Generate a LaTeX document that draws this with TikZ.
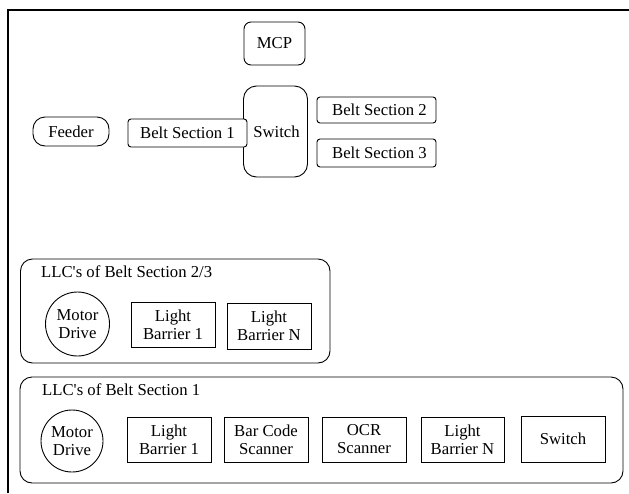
\documentclass[tikz,border=0pt]{standalone}
\usepackage{fontspec}
\setmainfont{Liberation Serif}[Ligatures=TeXOff]
\begin{document}
\begin{tikzpicture}[x=1pt,y=-1pt,
  every node/.style={font=\fontsize{16.7}{18}\selectfont, inner sep=0pt, align=center},
  box/.style={draw, line width=0.9pt, fill=white, rectangle},
  rbox/.style={box, rounded corners=#1},
  lbox/.style={box, minimum width=84pt, minimum height=45pt},
  motor/.style={draw, line width=0.9pt, circle, fill=white},
  container/.style={draw, line width=0.9pt, rounded corners=12pt}]
\useasboundingbox (0,0) rectangle (629,493);
% outer frame
\coordinate (fb) at (7.5,493);
\coordinate (fc) at (7.5,10);
\coordinate (fr) at (629,10);
\draw[line width=2pt] (fb) -- (fc) -- (fr);
% top area
\node[rbox=7pt, minimum width=61pt, minimum height=43pt] (mcp) at (274.5,43.5) {MCP};
\node[rbox=13pt, minimum width=64pt, minimum height=91pt] (sw) at (275.5,131.5) {\hspace*{2pt}Switch};
\node[rbox=12pt, minimum width=76pt, minimum height=29pt] (feeder) at (71,131.5) {Feeder};
\node[rbox=3pt, minimum width=119pt, minimum height=28pt] (b1) at (187.5,133) {Belt Section 1};
\node[rbox=3pt, minimum width=119pt, minimum height=26pt] (b2) at (376.5,110) {\hspace*{6pt}Belt Section 2};
\node[rbox=3pt, minimum width=119pt, minimum height=28pt] (b3) at (376.5,153) {\hspace*{6pt}Belt Section 3};
% LLC 2/3
\draw[container] (20.5,259) rectangle (330,363);
\node[anchor=base west] (la) at (41,277) {LLC's of Belt Section 2/3};
\node[motor, minimum size=64pt] (ma) at (77.5,324) {Motor\\Drive};
\node[lbox] (lb1a) at (173,324.5) {Light\\Barrier 1};
\node[lbox, minimum height=46pt] (lbna) at (269,326) {Light\\Barrier N};
% LLC 1
\draw[container] (20,377) rectangle (623,483);
\node[anchor=base west] (lb) at (42,395) {LLC's of Belt Section 1};
\node[motor, minimum size=62pt] (mb) at (72,441) {Motor\\Drive};
\node[lbox] (lb1b) at (169,439.5) {Light\\Barrier 1};
\node[lbox] (bcs) at (266,439.5) {Bar Code\\Scanner};
\node[lbox] (ocr) at (364,439.5) {OCR\\Scanner};
\node[lbox, minimum width=83pt] (lbnb) at (462.5,439.5) {Light\\Barrier N};
\node[lbox, minimum height=46pt] (swb) at (563,439) {Switch};
\end{tikzpicture}
\end{document}
